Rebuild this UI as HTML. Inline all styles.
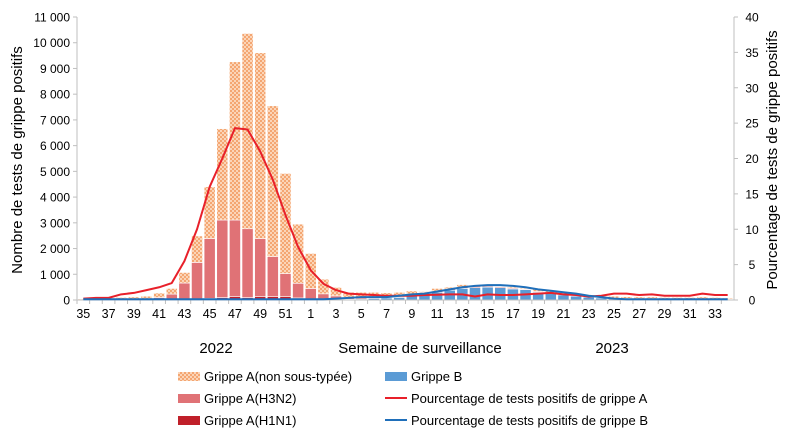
<!DOCTYPE html>
<html><head><meta charset="utf-8"><style>
body{margin:0;background:#fff;}
svg text{font-family:"Liberation Sans",sans-serif;fill:#000;}
</style></head><body>
<svg id="chart" width="792" height="440" viewBox="0 0 792 440" xmlns="http://www.w3.org/2000/svg">
<defs>
<pattern id="chk" width="4" height="4" patternUnits="userSpaceOnUse">
<rect width="4" height="4" fill="#fbd5b8"/>
<rect width="2" height="2" fill="#f4a672"/>
<rect x="2" y="2" width="2" height="2" fill="#f4a672"/>
</pattern>
</defs>
<g id="plot"></g>
<text x="22" y="160" font-size="15" text-anchor="middle" transform="rotate(-90 22 160)">Nombre de tests de grippe positifs</text>
<text x="777" y="160" font-size="15" text-anchor="middle" transform="rotate(-90 777 160)">Pourcentage de tests de grippe positifs</text>
<text x="216" y="353" font-size="15" text-anchor="middle">2022</text>
<text x="420" y="353" font-size="15" text-anchor="middle">Semaine de surveillance</text>
<text x="612" y="353" font-size="15" text-anchor="middle">2023</text>
<g font-size="13">
<rect x="178" y="372" width="22" height="9" fill="url(#chk)"/>
<text x="204" y="381">Grippe A(non sous-typée)</text>
<rect x="178" y="394" width="22" height="9" fill="#e07276"/>
<text x="204" y="403">Grippe A(H3N2)</text>
<rect x="178" y="416" width="22" height="9" fill="#c0202a"/>
<text x="204" y="425">Grippe A(H1N1)</text>
<rect x="385" y="372" width="22" height="9" fill="#5b9bd5"/>
<text x="411" y="381">Grippe B</text>
<line x1="385" y1="398" x2="407" y2="398" stroke="#e8202a" stroke-width="2"/>
<text x="411" y="403">Pourcentage de tests positifs de grippe A</text>
<line x1="385" y1="420" x2="407" y2="420" stroke="#1f6fba" stroke-width="2"/>
<text x="411" y="425">Pourcentage de tests positifs de grippe B</text>
</g>
</svg>
<script>
const weeks=[35,36,37,38,39,40,41,42,43,44,45,46,47,48,49,50,51,52,1,2,3,4,5,6,7,8,9,10,11,12,13,14,15,16,17,18,19,20,21,22,23,24,25,26,27,28,29,30,31,32,33,34];
const h1n1=[0,0,0,0,0,0,0,0,10,30,60,100,140,100,140,130,130,80,30,10,0,0,0,0,0,0,0,0,0,0,0,0,0,0,0,0,0,0,0,0,0,0,0,0,0,0,0,0,0,0,0,0];
const h3n2=[20,20,20,30,40,50,100,230,650,1430,2330,3010,2970,2670,2250,1560,900,570,420,220,140,80,60,50,50,40,40,40,50,50,50,50,40,40,40,30,30,30,30,20,20,20,20,20,20,20,20,20,20,20,20,20];
const fluB=[0,0,0,0,0,0,0,0,0,0,0,0,0,0,0,0,0,0,0,10,20,30,40,60,80,100,200,250,300,380,450,480,500,480,430,400,300,250,200,150,110,80,50,40,30,30,20,20,20,20,20,20];
const nonsub=[30,60,60,70,80,100,170,220,410,1030,2010,3550,6150,7590,7220,5860,3890,2300,1360,570,330,190,200,190,150,160,110,40,100,70,100,0,60,20,50,40,90,100,70,80,70,50,80,70,70,70,60,60,60,80,60,40];
const pctA=[0.2,0.3,0.3,0.8,1.0,1.4,1.8,2.4,5.5,10,16,20,24.3,24.1,21,17,12,7.5,4.2,2.3,1.4,0.9,0.8,0.7,0.6,0.6,0.6,0.7,0.75,0.8,0.8,0.5,0.8,0.7,0.7,0.8,0.9,1.0,0.8,0.7,0.5,0.6,0.9,0.9,0.7,0.8,0.6,0.6,0.6,0.9,0.7,0.7];
const pctB=[0.1,0.1,0.1,0.1,0.1,0.1,0.1,0.1,0.1,0.1,0.1,0.1,0.1,0.1,0.1,0.1,0.1,0.1,0.1,0.1,0.2,0.3,0.4,0.4,0.4,0.6,0.8,0.9,1.2,1.5,1.8,2.0,2.1,2.1,2.0,1.8,1.5,1.3,1.1,0.9,0.6,0.4,0.2,0.1,0.1,0.1,0.1,0.1,0.1,0.1,0.1,0.1];
const leftTicks=[0,1000,2000,3000,4000,5000,6000,7000,8000,9000,10000,11000];
const rightTicks=[0,5,10,15,20,25,30,35,40];

const NS='http://www.w3.org/2000/svg';
const g=document.getElementById('plot');
const X0=77,X1=734,Y0=300,Y1=17;
const step=(X1-X0)/weeks.length;
const xc=i=>X0+step*(i+0.5);
const yL=v=>Y0-(v/11000)*(Y0-Y1);
const yR=v=>Y0-(v/40)*(Y0-Y1);
function mk(tag,attrs){const e=document.createElementNS(NS,tag);for(const k in attrs)e.setAttribute(k,attrs[k]);g.appendChild(e);return e;}
const fmt=v=>String(v).replace(/\B(?=(\d{3})+(?!\d))/g,' ');

let a=mk('line',{x1:X0,y1:Y1,x2:X0,y2:Y0,stroke:'#bfbfbf'});


a=mk('line',{x1:X1,y1:Y1,x2:X1,y2:Y0,stroke:'#bfbfbf'});


leftTicks.forEach(v=>{
  const t=mk('line',{x1:X0-4,x2:X0,y1:yL(v),y2:yL(v),stroke:'#bfbfbf'});
  
  
  const l=mk('text',{x:X0-7,y:yL(v)+4.5,'font-size':12,'text-anchor':'end'});
  l.textContent=fmt(v);
  
  
});
rightTicks.forEach(v=>{
  const t=mk('line',{x1:X1,x2:X1+4,y1:yR(v),y2:yR(v),stroke:'#bfbfbf'});
  
  
  const l=mk('text',{x:X1+18,y:yR(v)+4.5,'font-size':12,'text-anchor':'middle'});
  l.textContent=v;
  
  
});
weeks.forEach((w,i)=>{
  const bw=step-1.5, x=xc(i)-bw/2;
  let base=0;
  [[fluB,'#5b9bd5','bar-b'],[h1n1,'#c0202a','bar-h1n1'],[h3n2,'#e07276','bar-h3n2'],[nonsub,'url(#chk)','bar-nonsubtyped']].forEach(([arr,fill,name])=>{
    const v=arr[i]; if(v<=0) return;
    const r=mk('rect',{x:x,y:yL(base+v),width:bw,height:yL(base)-yL(base+v),fill:fill,stroke:'#fff','stroke-width':0.6});
    
    
    base+=v;
  });
});
a=mk('line',{x1:X0,y1:Y0,x2:X1,y2:Y0,stroke:'#bfbfbf'});


weeks.forEach((w,i)=>{
  const t=mk('line',{x1:X0+step*i,x2:X0+step*i,y1:Y0,y2:Y0+4,stroke:'#bfbfbf'});
  
  
  if(i%2===0){
    const l=mk('text',{x:xc(i),y:318,'font-size':12.5,'text-anchor':'middle'});
    l.textContent=w;
    
    
  }
});
const pa=mk('polyline',{points:pctA.map((v,i)=>xc(i)+','+yR(v)).join(' '),fill:'none',stroke:'#e8202a','stroke-width':2,'stroke-linejoin':'round'});


const pb=mk('polyline',{points:pctB.map((v,i)=>xc(i)+','+yR(v)).join(' '),fill:'none',stroke:'#1f6fba','stroke-width':2,'stroke-linejoin':'round'});


</script>
</body></html>
